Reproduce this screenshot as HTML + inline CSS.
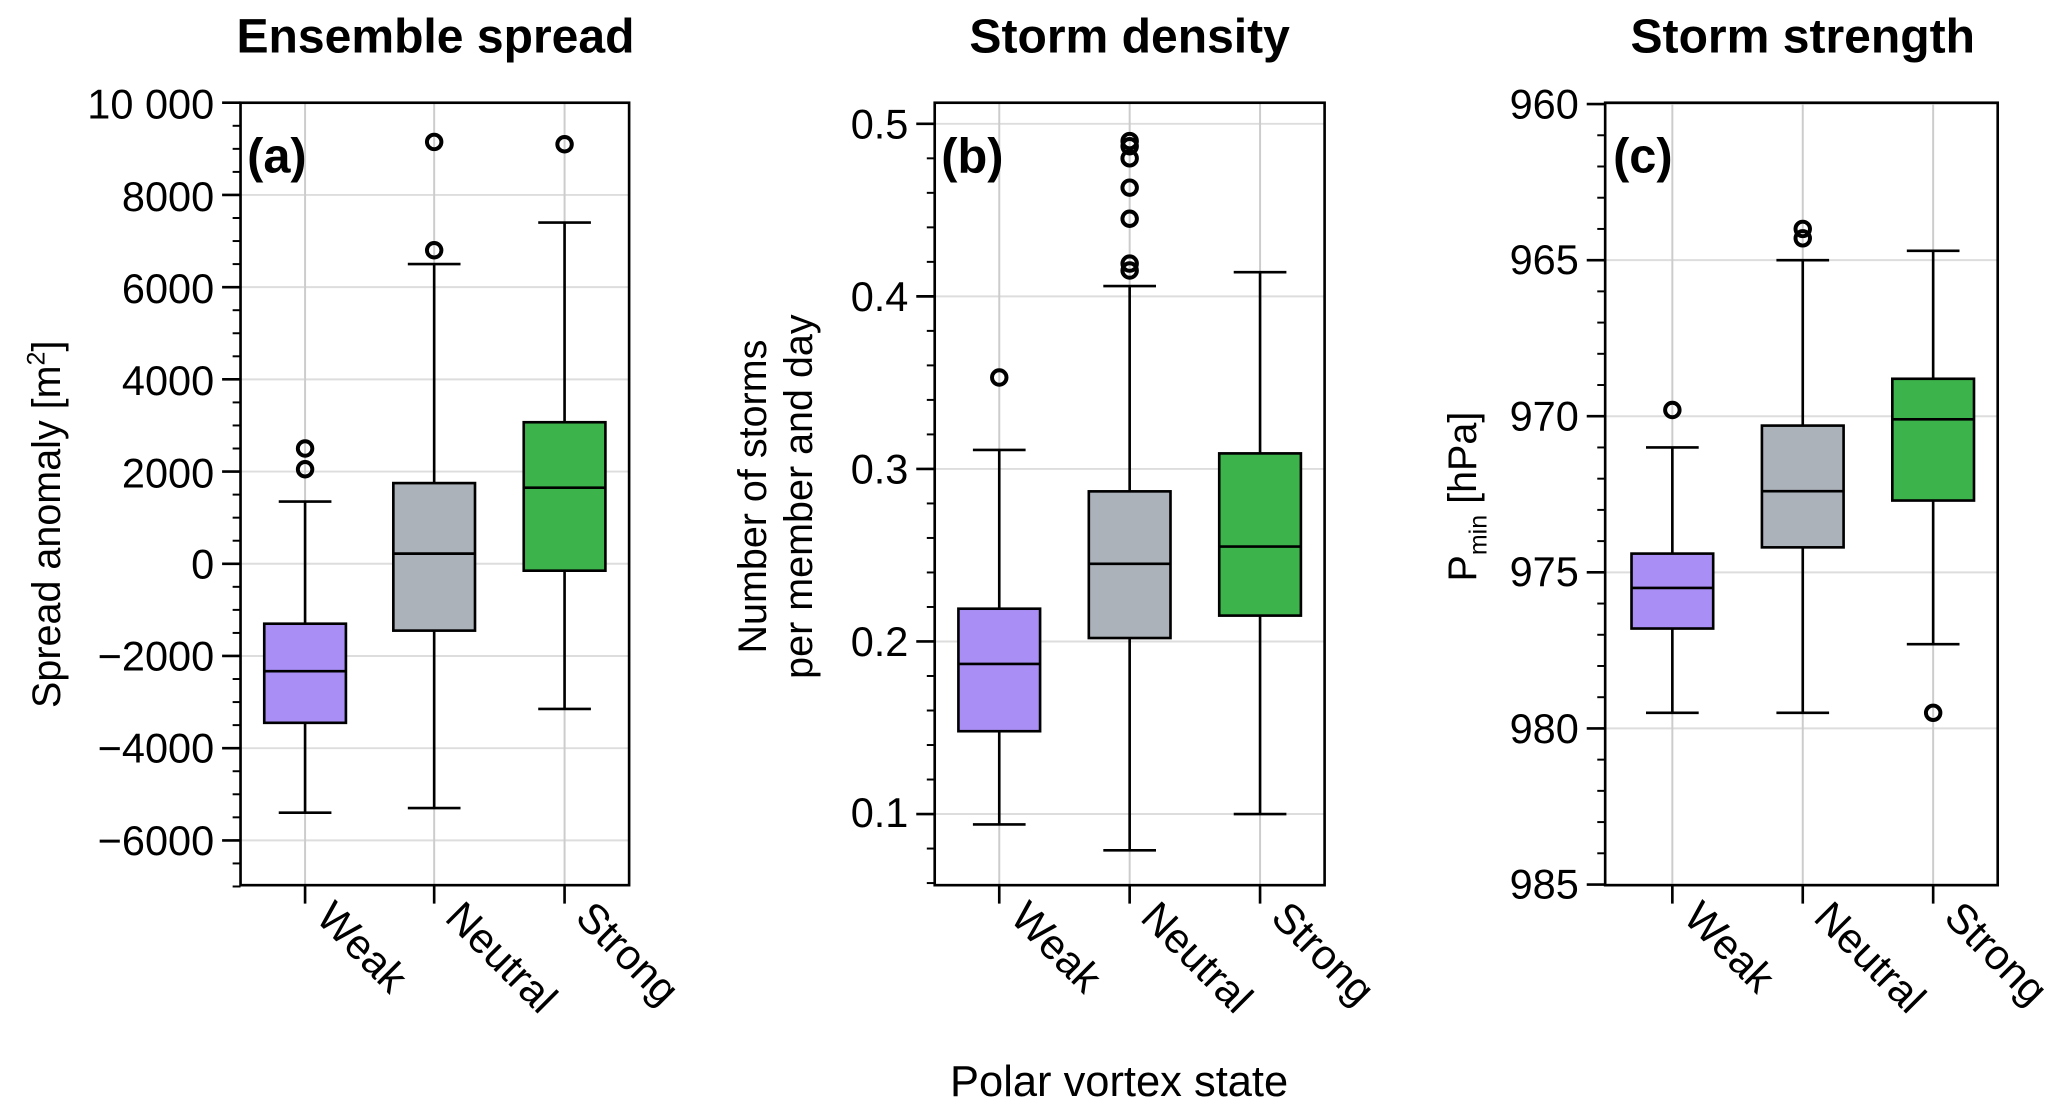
<!DOCTYPE html>
<html><head><meta charset="utf-8"><style>
html,body{margin:0;padding:0;background:#fff;}
svg{display:block;font-family:"Liberation Sans",Arial,sans-serif;}
.t{font-size:31.5px;fill:#000;}
.yl{font-size:30px;}
.cl{font-size:32px;}
.ti{font-size:36.5px;font-weight:bold;}
.pl{font-size:37px;font-weight:bold;}
</style></head><body>
<svg id="s" width="2067" height="1117" viewBox="0 0 1568 848" xmlns="http://www.w3.org/2000/svg">
<g id="g"></g>
<text class="ti" x="330" y="40" text-anchor="middle">Ensemble spread</text>
<text class="ti" x="857" y="40" text-anchor="middle">Storm density</text>
<text class="ti" x="1368" y="40" text-anchor="middle">Storm strength</text>
<text class="pl" x="187" y="131">(a)</text>
<text class="pl" x="714" y="131">(b)</text>
<text class="pl" x="1224" y="131">(c)</text>
<g class="t" text-anchor="end">
<text x="162" y="90">10 000</text>
<text x="162" y="160">8000</text>
<text x="162" y="230">6000</text>
<text x="162" y="300">4000</text>
<text x="162" y="370">2000</text>
<text x="162" y="439">0</text>
<text x="162" y="509">−2000</text>
<text x="162" y="579">−4000</text>
<text x="162" y="649">−6000</text>
<text x="689" y="105">0.5</text>
<text x="689" y="236">0.4</text>
<text x="689" y="367">0.3</text>
<text x="689" y="498">0.2</text>
<text x="689" y="628">0.1</text>
<text x="1198" y="90">960</text>
<text x="1198" y="208">965</text>
<text x="1198" y="327">970</text>
<text x="1198" y="445">975</text>
<text x="1198" y="564">980</text>
<text x="1198" y="682">985</text>
</g>
<text class="t yl" transform="translate(45,398) rotate(-90)" text-anchor="middle">Spread anomaly [m<tspan font-size="19" dy="-12">2</tspan><tspan dy="12">]</tspan></text>
<text class="t yl" transform="translate(581,377) rotate(-90)" text-anchor="middle">Number of storms</text>
<text class="t yl" transform="translate(616,377) rotate(-90)" text-anchor="middle">per member and day</text>
<text class="t yl" transform="translate(1120,377) rotate(-90)" text-anchor="middle">P<tspan font-size="19" dy="8">min</tspan><tspan dy="-8"> [hPa]</tspan></text>
<g class="t cl">
<text transform="translate(238,698) rotate(45)">Weak</text>
<text transform="translate(336,698) rotate(45)">Neutral</text>
<text transform="translate(435,698) rotate(45)">Strong</text>
<text transform="translate(765,698) rotate(45)">Weak</text>
<text transform="translate(864,698) rotate(45)">Neutral</text>
<text transform="translate(963,698) rotate(45)">Strong</text>
<text transform="translate(1276,698) rotate(45)">Weak</text>
<text transform="translate(1375,698) rotate(45)">Neutral</text>
<text transform="translate(1474,698) rotate(45)">Strong</text>
</g>
<text class="t" x="849" y="832" text-anchor="middle" style="font-size:33px">Polar vortex state</text>
</svg>
<script>
var g=document.getElementById('g'),NS='http://www.w3.org/2000/svg';
function el(t,a){var e=document.createElementNS(NS,t);for(var k in a)e.setAttribute(k,a[k]);g.appendChild(e);return e;}
function ln(x1,y1,x2,y2,c,w){el('line',{x1:x1,y1:y1,x2:x2,y2:y2,stroke:c,'stroke-width':w});}
var cols=['#a98ff5','#abb2b9','#3cb44b'];
function panel(x0,x1,cats,ymap,majors,minors,boxes){
 var yt=78,yb=672;
 majors.forEach(function(v){var y=ymap(v);ln(x0,y,x1,y,'#ddd',1.5);ln(x0-14,y,x0,y,'#000',2);});
 cats.forEach(function(c){ln(c,yt,c,yb,'#ccc',1.5);ln(c,yb,c,yb+14,'#000',2);});
 minors.forEach(function(v){var y=ymap(v);ln(x0-6,y,x0,y,'#000',1.5);});
 boxes.forEach(function(b,i){var c=cats[i];
  ln(c,ymap(b[0]),c,ymap(b[1]),'#000',2);ln(c,ymap(b[4]),c,ymap(b[3]),'#000',2);
  ln(c-20,ymap(b[0]),c+20,ymap(b[0]),'#000',2);ln(c-20,ymap(b[4]),c+20,ymap(b[4]),'#000',2);
  var ya=ymap(b[1]),yb2=ymap(b[3]);
  el('rect',{x:c-31,y:Math.min(ya,yb2),width:62,height:Math.abs(ya-yb2),fill:cols[i],stroke:'#000','stroke-width':2});
  ln(c-31,ymap(b[2]),c+31,ymap(b[2]),'#000',2);
  (b[5]||[]).forEach(function(o){el('circle',{cx:c,cy:ymap(o),r:5.5,fill:'none',stroke:'#000','stroke-width':3});});
 });
 el('rect',{x:x0,y:yt,width:x1-x0,height:yb-yt,fill:'none',stroke:'#000','stroke-width':2});
}
var a=function(v){return 428-v*0.035;},mi=[],ma=[];
for(var v=-7000;v<=10000;v+=500)mi.push(v);for(v=-6000;v<=10000;v+=2000)ma.push(v);
panel(182,477,[231,329,428],a,ma,mi,[[-5400,-3450,-2330,-1300,1350,[2050,2500]],[-5300,-1450,220,1750,6500,[6800,9150]],[-3150,-150,1650,3070,7400,[9100]]]);
var b=function(v){return 94+(0.5-v)*1310;};mi=[];ma=[];
for(v=0.06;v<=0.51;v+=0.02)mi.push(v);for(v=0.1;v<=0.51;v+=0.1)ma.push(v);
panel(709,1005,[758,857,956],b,ma,mi,[[0.094,0.148,0.187,0.219,0.311,[0.353]],[0.079,0.202,0.245,0.287,0.406,[0.415,0.419,0.445,0.463,0.48,0.487,0.49]],[0.1,0.215,0.255,0.309,0.414,[]]]);
var c=function(v){return 79+(v-960)*23.7;};mi=[];ma=[];
for(v=960;v<=985;v+=1)mi.push(v);for(v=960;v<=985;v+=5)ma.push(v);
panel(1218,1516,[1269,1368,1467],c,ma,mi,[[979.5,976.8,975.5,974.4,971,[969.8]],[979.5,974.2,972.4,970.3,965,[964.0,964.3]],[977.3,972.7,970.1,968.8,964.7,[979.5]]]);
</script>
</body></html>
